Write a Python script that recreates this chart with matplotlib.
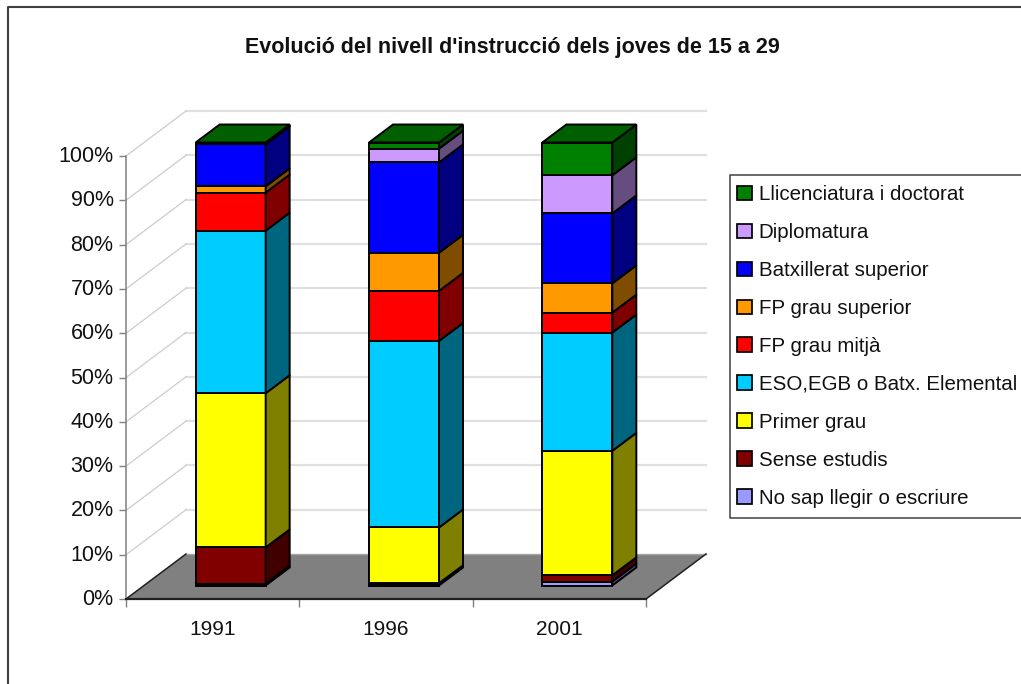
import numpy as np
import matplotlib
matplotlib.use('Agg')
import matplotlib.pyplot as plt
from matplotlib.colors import to_rgb
from matplotlib.lines import Line2D
from matplotlib.transforms import ScaledTranslation

plt.rcParams['font.family'] = ['Liberation Sans', 'DejaVu Sans']

years = ['1991', '1996', '2001']

# stacked from the floor up, percent
no_sap      = [0.4, 0.2, 0.9]
sense       = [8.2, 0.3, 1.4]
primer      = [34.8, 12.6, 28.1]
eso         = [36.7, 42.1, 26.7]
fp_mitja    = [8.6, 11.3, 4.5]
fp_superior = [1.4, 8.6, 6.6]
batxillerat = [9.5, 20.4, 15.8]
diplomatura = [0.2, 3.1, 8.6]
llicenciat  = [0.2, 1.4, 7.4]

series = [no_sap, sense, primer, eso, fp_mitja, fp_superior,
          batxillerat, diplomatura, llicenciat]
names = ['No sap llegir o escriure', 'Sense estudis', 'Primer grau',
         'ESO,EGB o Batx. Elemental', 'FP grau mitjà', 'FP grau superior',
         'Batxillerat superior', 'Diplomatura', 'Llicenciatura i doctorat']
colors = ['#9999FF', '#800000', '#FFFF00', '#00CCFF', '#FF0000',
          '#FF9900', '#0000FF', '#CC99FF', '#008000']

W, H = 1021, 684
fig = plt.figure(figsize=(W / 100, H / 100), dpi=100)
ax = fig.add_axes([126 / W, 1 - 599 / H, 520 / W, 443 / H])
ax.set_xlim(0, 3)
ax.set_ylim(0, 100)
ax.patch.set_visible(False)

# oblique depth, in data units
px_x = 3 / 520
px_y = 100 / 443
depth_x = 60 * px_x
depth_y = 45 * px_y

def shear(xs, ys, d):
    return np.array(xs) + d * depth_x, np.array(ys) + d * depth_y

# floor
fx, fy = shear([0, 3, 3, 0], [0, 0, 0, 0], 0)
bx, by = shear([3, 0], [0, 0], 1)
ax.fill(np.r_[fx[:2], bx], np.r_[fy[:2], by], fc='#808080', ec='none',
        zorder=2, clip_on=False)
ax.plot(*shear([0, 3], [0, 0], 1), color='#a6a6a6', lw=1, zorder=2, clip_on=False)
ax.plot([3, 3 + depth_x], [0, depth_y], color='#202020', lw=1.1, zorder=2, clip_on=False)
ax.plot([0, depth_x], [0, depth_y], color='#202020', lw=1.1, zorder=2, clip_on=False)
ax.plot([0, 3], [0, 0], color='#202020', lw=1.6, zorder=3, clip_on=False)

# walls
for v in range(0, 101, 10):
    if v > 0:
        ax.plot(*shear([0, 3], [v, v], 1), color='#e0e0e0', lw=1.6, zorder=1, clip_on=False)
        ax.plot([0, depth_x], [v, v + depth_y], color='#cccccc', lw=0.9, zorder=1, clip_on=False)

# columns
bar_w = 70 * px_x
d0, d1 = 0.3, 0.7
lw = 1.4
for i in range(len(years)):
    bottom = 0.0
    xl = i + 0.5 - bar_w / 2 + d0 * depth_x
    xr = xl + bar_w
    sx = (d1 - d0) * depth_x
    sy = (d1 - d0) * depth_y
    y0 = d0 * depth_y
    for vals, col in zip(series, colors):
        v = vals[i]
        rgb = np.array(to_rgb(col))
        ax.bar(xl, v, bar_w, bottom=bottom + y0, align='edge', color=col,
               edgecolor='black', lw=lw, zorder=5, clip_on=False)
        ax.fill([xr, xr + sx, xr + sx, xr],
                [bottom + y0, bottom + y0 + sy, bottom + v + y0 + sy, bottom + v + y0],
                fc=rgb * 0.5, ec='black', lw=lw, zorder=5, clip_on=False)
        bottom += v
    ax.fill([xl, xr, xr + sx, xl + sx],
            [bottom + y0, bottom + y0, bottom + y0 + sy, bottom + y0 + sy],
            fc=np.array(to_rgb(colors[-1])) * 0.75, ec='black', lw=lw, zorder=5, clip_on=False)

# axes
ax.set_yticks(range(0, 101, 10))
ax.set_yticklabels(['%d%%' % v for v in range(0, 101, 10)], fontsize=15.5, color='#111111')
ax.set_xticks([0, 1, 2, 3])
ax.set_xticklabels([])
ax.set_xticks([0.5, 1.5, 2.5], minor=True)
ax.set_xticklabels(years, minor=True, fontsize=15, color='#111111')
ax.tick_params(axis='x', which='major', length=6, width=1, color='#808080')
ax.tick_params(axis='x', which='minor', length=0, pad=15)
ax.tick_params(axis='y', length=5, width=1, color='#808080', pad=4)
# labels sit a bit above their ticks in the original
nudge = ScaledTranslation(0, 2 / 100, fig.dpi_scale_trans)
for lab in ax.get_yticklabels():
    lab.set_transform(lab.get_transform() + nudge)
for s in ['top', 'right']:
    ax.spines[s].set_visible(False)
ax.spines['left'].set_color('#808080')
ax.spines['left'].set_linewidth(1.1)
ax.spines['bottom'].set_visible(False)
ax.set_axisbelow(True)

fig.text(512 / W, 1 - 47.5 / H, "Evolució del nivell d'instrucció dels joves de 15 a 29",
         fontsize=15.5, fontweight='bold', ha='center', va='center', color='#111111')

# chart frame, runs off the right and bottom edges
fig.add_artist(Line2D([8 / W, 8 / W, 1], [0, 1 - 7 / H, 1 - 7 / H],
                      transform=fig.transFigure, color='#404040', lw=1.5))

# legend, top series first
handles = [plt.Rectangle((0, 0), 1, 1, fc=c, ec='black', lw=1.25) for c in colors[::-1]]
leg = fig.legend(handles, names[::-1], loc='upper left',
                 bbox_to_anchor=(726 / W, 1 - 174 / H), bbox_transform=fig.transFigure,
                 borderaxespad=0, fontsize=14.8, frameon=False,
                 handlelength=0.72, handleheight=0.72, handletextpad=0.32,
                 labelspacing=0.92, borderpad=0.55, labelcolor='#111111')
fig.add_artist(Line2D([1, 730 / W, 730 / W, 1],
                      [1 - 175 / H, 1 - 175 / H, 1 - 518 / H, 1 - 518 / H],
                      transform=fig.transFigure, color='#404040', lw=1.1))

fig.savefig('out.png', dpi=100)
